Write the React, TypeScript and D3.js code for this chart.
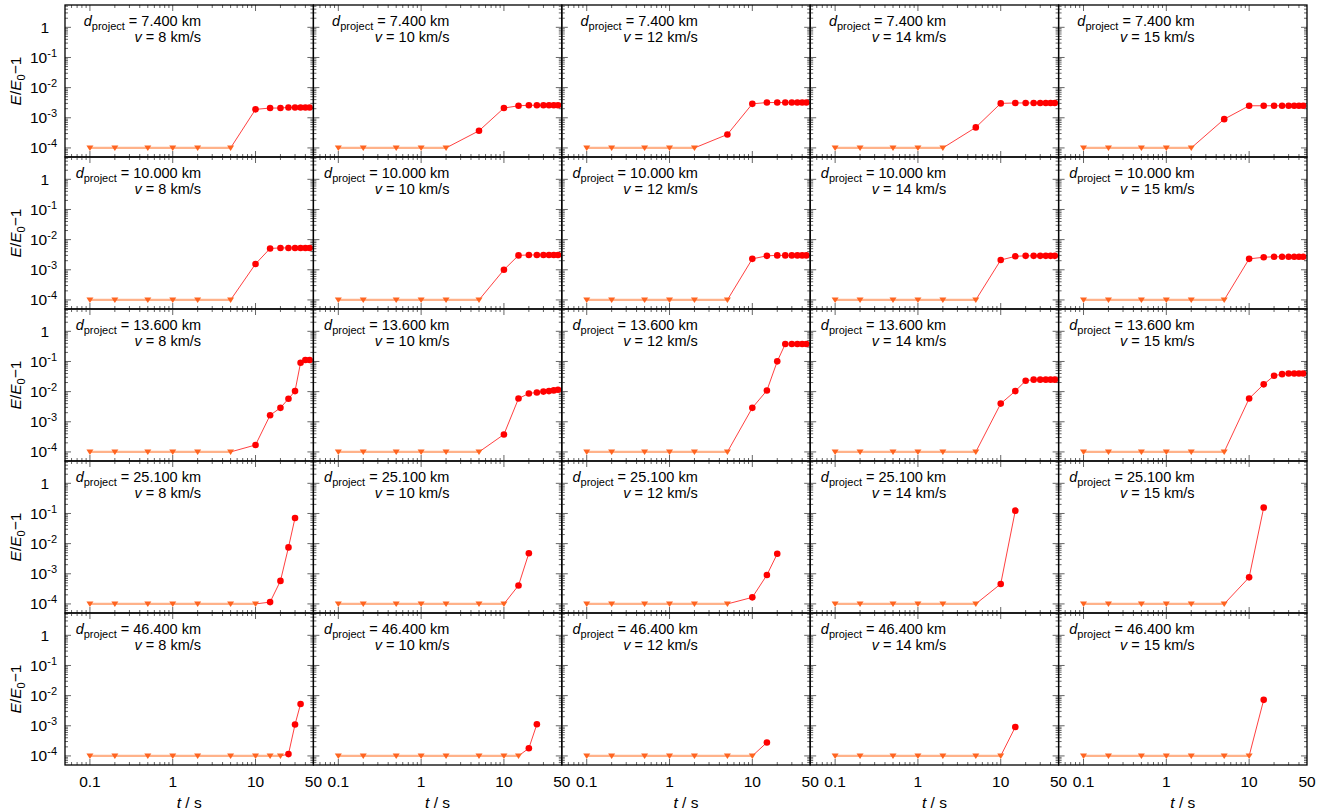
import React from "react";
import * as d3 from "d3";

// sample times (s)
const times = [0.1, 0.2, 0.5, 1, 2, 5, 10, 15, 20, 25, 30, 35, 40, 45];
const distances = ["7.400", "10.000", "13.600", "25.100", "46.400"];
const speeds = [8, 10, 12, 14, 15];
const FLOOR = 1e-4;

// E/E0-1 per speed; 0 = below floor (drawn as triangle at 1e-4)
const d7400 = [
  [0, 0, 0, 0, 0, 0, 1.9e-3, 2.1e-3, 2.1e-3, 2.2e-3, 2.2e-3, 2.2e-3, 2.2e-3, 2.2e-3],
  [0, 0, 0, 0, 0, 3.7e-4, 2.1e-3, 2.5e-3, 2.6e-3, 2.6e-3, 2.6e-3, 2.6e-3, 2.6e-3, 2.6e-3],
  [0, 0, 0, 0, 0, 2.8e-4, 2.9e-3, 3.2e-3, 3.2e-3, 3.2e-3, 3.2e-3, 3.2e-3, 3.2e-3, 3.2e-3],
  [0, 0, 0, 0, 0, 4.8e-4, 3.0e-3, 3.1e-3, 3.1e-3, 3.1e-3, 3.1e-3, 3.1e-3, 3.1e-3, 3.1e-3],
  [0, 0, 0, 0, 0, 9.0e-4, 2.5e-3, 2.5e-3, 2.5e-3, 2.5e-3, 2.5e-3, 2.5e-3, 2.5e-3, 2.5e-3],
];
const d10000 = [
  [0, 0, 0, 0, 0, 0, 1.56e-3, 5.1e-3, 5.3e-3, 5.3e-3, 5.3e-3, 5.3e-3, 5.3e-3, 5.3e-3],
  [0, 0, 0, 0, 0, 0, 1.0e-3, 3.0e-3, 3.1e-3, 3.1e-3, 3.1e-3, 3.1e-3, 3.1e-3, 3.1e-3],
  [0, 0, 0, 0, 0, 0, 2.3e-3, 2.9e-3, 3.0e-3, 3.0e-3, 3.0e-3, 3.0e-3, 3.0e-3, 3.0e-3],
  [0, 0, 0, 0, 0, 0, 2.1e-3, 2.8e-3, 2.9e-3, 2.9e-3, 2.9e-3, 2.9e-3, 2.9e-3, 2.9e-3],
  [0, 0, 0, 0, 0, 0, 2.3e-3, 2.6e-3, 2.7e-3, 2.7e-3, 2.7e-3, 2.7e-3, 2.7e-3, 2.7e-3],
];
const d13600 = [
  [0, 0, 0, 0, 0, 0, 1.7e-4, 1.65e-3, 2.9e-3, 5.8e-3, 1.04e-2, 9.1e-2, 0.112, 0.112],
  [0, 0, 0, 0, 0, 0, 3.8e-4, 5.9e-3, 8.7e-3, 9.4e-3, 1.0e-2, 1.04e-2, 1.1e-2, 1.15e-2],
  [0, 0, 0, 0, 0, 0, 2.9e-3, 1.09e-2, 0.101, 0.38, 0.38, 0.38, 0.38, 0.38],
  [0, 0, 0, 0, 0, 0, 4.0e-3, 1.04e-2, 2.3e-2, 2.5e-2, 2.5e-2, 2.5e-2, 2.5e-2, 2.5e-2],
  [0, 0, 0, 0, 0, 0, 5.9e-3, 1.74e-2, 3.35e-2, 3.8e-2, 4.0e-2, 4.0e-2, 4.0e-2, 4.0e-2],
];
const d25100 = [
  [0, 0, 0, 0, 0, 0, 0, 1.15e-4, 5.8e-4, 7.5e-3, 7.1e-2],
  [0, 0, 0, 0, 0, 0, 0, 4.1e-4, 4.8e-3],
  [0, 0, 0, 0, 0, 0, 1.65e-4, 9.1e-4, 4.6e-3],
  [0, 0, 0, 0, 0, 0, 4.6e-4, 0.124],
  [0, 0, 0, 0, 0, 0, 7.6e-4, 0.157],
];
const d46400 = [
  [0, 0, 0, 0, 0, 0, 0, 0, 0, 1.15e-4, 1.1e-3, 5.3e-3],
  [0, 0, 0, 0, 0, 0, 0, 0, 1.8e-4, 1.12e-3],
  [0, 0, 0, 0, 0, 0, 0, 2.8e-4],
  [0, 0, 0, 0, 0, 0, 0, 9.1e-4],
  [0, 0, 0, 0, 0, 0, 0, 7.25e-3],
];
const rows = [d7400, d10000, d13600, d25100, d46400];

const xTickLabels = ["0.1", "1", "10", "50"];
const yTickExps = [0, -1, -2, -3, -4];

const W = 1335, H = 812;
const LEFT = 65, TOP = 5, PW = 248.4, PH = 152;
const FONT = "'Liberation Sans', Arial, Helvetica, sans-serif";

const Panel = ({ row, col }: { row: number; col: number }) => {
  const x0 = LEFT + col * PW;
  const y0 = TOP + row * PH;
  const x = d3.scaleLog().domain([0.05, 50]).range([x0, x0 + PW]);
  const y = d3.scaleLog().domain([5e-5, 5.5]).range([y0 + PH, y0]);
  const vals = rows[row][col];
  const pts = vals.map((v, i) => ({ t: times[i], v: v > 0 ? v : FLOOR, low: !(v > 0) }));
  const low = pts.filter((p) => p.low);
  const high = pts.filter((p) => !p.low);
  const line = d3.line<any>().x((p) => x(p.t)).y((p) => y(p.v));

  const isMajor = (v: number) => Math.abs(Math.log10(v) - Math.round(Math.log10(v))) < 1e-9;
  const xt = x.ticks().filter((t) => t > 0.05 && t < 50);
  const yt = y.ticks().filter((t) => t > 5e-5 && t < 5.5);
  const tk = "#666";

  return (
    <g>
      {/* ticks */}
      {xt.map((t, i) => {
        const L = isMajor(t) ? 6 : 3;
        const px = x(t);
        return (
          <g key={"x" + i} stroke={tk} strokeWidth={1}>
            <line x1={px} x2={px} y1={y0 + PH} y2={y0 + PH - L} />
            <line x1={px} x2={px} y1={y0} y2={y0 + L} />
          </g>
        );
      })}
      {yt.map((t, i) => {
        const L = isMajor(t) ? 6 : 3;
        const py = y(t);
        return (
          <g key={"y" + i} stroke={tk} strokeWidth={1}>
            <line x1={x0} x2={x0 + L} y1={py} y2={py} />
            <line x1={x0 + PW} x2={x0 + PW - L} y1={py} y2={py} />
          </g>
        );
      })}

      {/* data */}
      <path d={line(pts) || ""} fill="none" stroke="#ff2a2a" strokeWidth={0.9} />
      {low.length > 1 && (
        <path d={line(low) || ""} fill="none" stroke="#ffb28a" strokeWidth={2.2} />
      )}
      {low.map((p, i) => {
        const px = x(p.t), py = y(p.v);
        return (
          <path key={"tr" + i} d={`M${px - 3.5},${py - 2.5}L${px + 3.5},${py - 2.5}L${px},${py + 3}Z`} fill="#ff6420" />
        );
      })}
      {high.map((p, i) => (
        <circle key={"c" + i} cx={x(p.t)} cy={y(p.v)} r={3.3} fill="#ff0000" />
      ))}

      {/* annotation */}
      <text x={x0 + 136} y={y0 + 21} textAnchor="end" fontSize={14.5} fontFamily={FONT}>
        <tspan fontStyle="italic">d</tspan>
        <tspan fontSize={11} dy={4}>project</tspan>
        <tspan dy={-4}>{` = ${distances[row]} km`}</tspan>
      </text>
      <text x={x0 + 136} y={y0 + 37} textAnchor="end" fontSize={14.5} fontFamily={FONT}>
        <tspan fontStyle="italic">v</tspan>
        <tspan>{` = ${speeds[col]} km/s`}</tspan>
      </text>

      <rect x={x0} y={y0} width={PW} height={PH} fill="none" stroke="#000" strokeWidth={1.3} />

      {/* y tick labels */}
      {col === 0 &&
        yTickExps.map((e) => {
          const py = y(Math.pow(10, e));
          return e === 0 ? (
            <text key={"yl" + e} x={49} y={py + 5.5} textAnchor="end" fontSize={15.5} fontFamily={FONT}>1</text>
          ) : (
            <text key={"yl" + e} x={57} y={py + 5.5} textAnchor="end" fontSize={15.5} fontFamily={FONT}>
              10<tspan fontSize={11} dy={-6}>{`-${-e}`}</tspan>
            </text>
          );
        })}
      {col === 0 && (
        <text
          transform={`translate(21,${y0 + PH / 2}) rotate(-90)`}
          textAnchor="middle"
          fontSize={15.5}
          fontFamily={FONT}
        >
          <tspan fontStyle="italic">E</tspan>/<tspan fontStyle="italic">E</tspan>
          <tspan fontSize={11} dy={4}>0</tspan>
          <tspan dy={-4}>−1</tspan>
        </text>
      )}

      {/* x tick labels */}
      {row === rows.length - 1 &&
        xTickLabels.map((s) => (
          <text key={"xl" + s} x={x(+s)} y={787} textAnchor="middle" fontSize={15.5} fontFamily={FONT}>
            {s}
          </text>
        ))}
      {row === rows.length - 1 && (
        <text x={x0 + PW / 2} y={808} textAnchor="middle" fontSize={15.5} fontFamily={FONT}>
          <tspan fontStyle="italic">t</tspan> / s
        </text>
      )}
    </g>
  );
};

export default function App() {
  return (
    <svg
      width={W}
      height={H}
      style={{ position: "absolute", left: 0, top: 0, background: "#fff" }}
    >
      <rect width={W} height={H} fill="#fff" />
      {rows.map((r, ri) => r.map((_, ci) => <Panel key={ri + "-" + ci} row={ri} col={ci} />))}
    </svg>
  );
}
